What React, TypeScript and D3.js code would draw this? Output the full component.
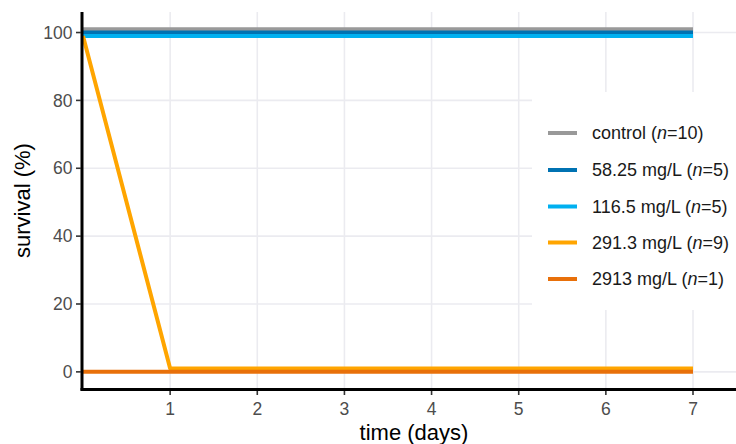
import React from "react";
import * as d3 from "d3";

const days = [0, 1, 2, 3, 4, 5, 6, 7];
const seriesNames = ["control", "58.25 mg/L", "116.5 mg/L", "291.3 mg/L", "2913 mg/L"];
const seriesN = [10, 5, 5, 9, 1];
const seriesColors = ["#999999", "#0072B2", "#00B0F0", "#FFA500", "#E8700A"];
const controlValues = [101, 101, 101, 101, 101, 101, 101, 101];
const dose58Values = [100, 100, 100, 100, 100, 100, 100, 100];
const dose116Values = [99, 99, 99, 99, 99, 99, 99, 99];
const dose291Values = [99, 1, 1, 1, 1, 1, 1, 1];
const dose2913Values = [0, 0, 0, 0, 0, 0, 0, 0];
const allValues = [controlValues, dose58Values, dose116Values, dose291Values, dose2913Values];
const yTicks = [0, 20, 40, 60, 80, 100];
const xTicks = [1, 2, 3, 4, 5, 6, 7];

export default function App() {
  const W = 736, H = 444;
  const panelTop = 12, panelBottom = 389;
  const x = d3.scaleLinear().domain([0, 7]).range([83, 693]);
  const y = d3.scaleLinear().domain([-5.05, 106.05]).range([panelBottom, panelTop]);
  const line = d3.line<number>().x((_, i) => x(days[i])).y((v) => y(v));
  const font = "Liberation Sans, Arial, sans-serif";
  const legendX = 532, legendY = 92, legendRowY = [133, 170, 206.5, 242.5, 279];
  return (
    <svg width={W} height={H} style={{ position: "absolute", left: 0, top: 0, background: "#fff" }} fontFamily={font}>
      <rect x={0} y={0} width={W} height={H} fill="#fff" />
      <defs>
        <clipPath id="panel">
          <rect x={83} y={panelTop} width={W - 83} height={panelBottom - panelTop} />
        </clipPath>
      </defs>
      {/* gridlines */}
      <g stroke="#EBEBF0" strokeWidth={1.6}>
        {yTicks.map((t) => (
          <line key={"gy" + t} x1={83} x2={W} y1={y(t)} y2={y(t)} />
        ))}
        {xTicks.map((t) => (
          <line key={"gx" + t} x1={x(t)} x2={x(t)} y1={panelTop} y2={panelBottom} />
        ))}
      </g>
      {/* series */}
      <g clipPath="url(#panel)" fill="none" strokeWidth={4} strokeLinejoin="round">
        {allValues.map((vals, i) => (
          <path key={"s" + i} d={line(vals) || ""} stroke={seriesColors[i]} />
        ))}
      </g>
      {/* legend */}
      <rect x={legendX} y={legendY} width={W - legendX} height={310 - legendY} fill="#fff" />
      {seriesNames.map((name, i) => (
        <g key={"lg" + i}>
          <line x1={548} x2={577} y1={legendRowY[i]} y2={legendRowY[i]} stroke={seriesColors[i]} strokeWidth={4} />
          <text x={592} y={legendRowY[i]} dy="0.35em" fontSize={18} fill="#1a1a1a">
            {name + " ("}
            <tspan fontStyle="italic">n</tspan>
            {"=" + seriesN[i] + ")"}
          </text>
        </g>
      ))}
      {/* axes */}
      <line x1={82} x2={82} y1={panelTop} y2={panelBottom + 1.5} stroke="#000" strokeWidth={3} />
      <line x1={80.5} x2={W} y1={panelBottom + 0.5} y2={panelBottom + 0.5} stroke="#000" strokeWidth={3} />
      {yTicks.map((t) => (
        <g key={"yt" + t}>
          <line x1={76} x2={81} y1={y(t)} y2={y(t)} stroke="#333" strokeWidth={1.6} />
          <text x={72.5} y={y(t)} dy="0.35em" textAnchor="end" fontSize={17.5} fill="#4D4D4D">{t}</text>
        </g>
      ))}
      {xTicks.map((t) => (
        <g key={"xt" + t}>
          <line x1={x(t)} x2={x(t)} y1={panelBottom + 2} y2={panelBottom + 6} stroke="#333" strokeWidth={1.6} />
          <text x={x(t)} y={409} dy="0.35em" textAnchor="middle" fontSize={17.5} fill="#4D4D4D">{t}</text>
        </g>
      ))}
      <text x={414} y={432} dy="0.35em" textAnchor="middle" fontSize={22} fill="#000">time (days)</text>
      <text transform={`translate(22,${(panelTop + panelBottom) / 2}) rotate(-90)`} dy="0.35em" textAnchor="middle" fontSize={22} fill="#000">survival (%)</text>
    </svg>
  );
}
